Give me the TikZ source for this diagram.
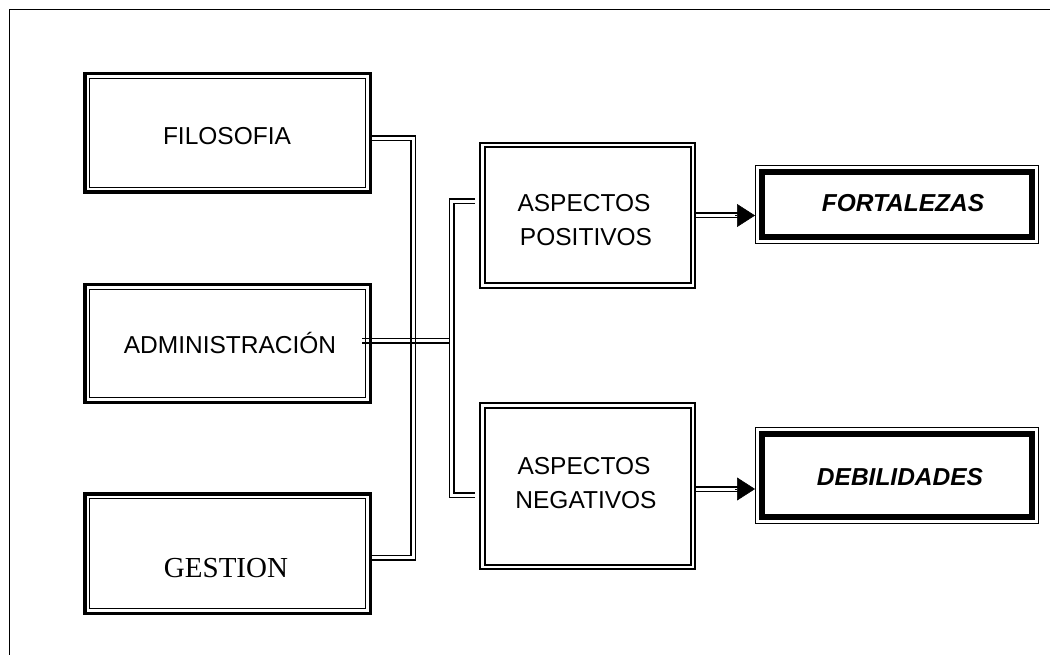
\documentclass[tikz,border=0pt]{standalone}
\usepackage{fontspec}
\setmainfont{Liberation Sans}
\newfontfamily\timesf{Liberation Serif}
\usetikzlibrary{arrows.meta}
\tikzset{
  dblbox/.style n args={3}{draw, line width=#1, inner sep=0pt,
    path picture={\draw[line width=#2]
      ([shift={(#3,-#3)}]path picture bounding box.north west) rectangle
      ([shift={(-#3,#3)}]path picture bounding box.south east);}},
  leftbox/.style={dblbox={3.5pt}{1.2pt}{4.4pt}, minimum width=285.5pt},
  aspbox/.style={dblbox={2pt}{2pt}{4.5pt}, minimum width=215pt},
  resbox/.style={dblbox={1.2pt}{5.5pt}{6.5pt}, minimum width=282.8pt},
  txt/.style={inner sep=0pt, anchor=base, font=\fontsize{24.5}{30}\selectfont},
  restxt/.style={txt, font=\fontsize{24.5}{30}\selectfont\bfseries\itshape},
  dbl/.style={double, double distance=3pt, line width=1.5pt},
  one/.style={line width=1.5pt},
  tip/.style={-{Triangle[length=18pt,width=23pt]}, line width=0.5pt}
}
\begin{document}
\begin{tikzpicture}[x=1pt,y=-1pt]
\useasboundingbox (0,0) rectangle (1050,655);
\fill[white] (0,0) rectangle (1050,655);
% outer frame (only left and top visible)
\draw[line width=1.3pt] (9.5,660) -- (9.5,9.5) -- (1055,9.5);

% boxes
\node[leftbox, minimum height=118.5pt] (filo)  at (227.5,133) {};
\node[leftbox, minimum height=117.5pt] (admin) at (227.5,343.5) {};
\node[leftbox, minimum height=119.5pt] (gest)  at (227.5,553.5) {};
\node[aspbox, minimum height=145pt] (pos) at (587.5,215.5) {};
\node[aspbox, minimum height=166pt] (neg) at (587.5,486) {};
\node[resbox, minimum height=77.8pt] (fort) at (897,204.5) {};
\node[resbox, minimum height=95.8pt] (deb) at (897,475.5) {};

% texts
\node[txt] (tfilo) at (227,145) {FILOSOFIA};
\node[txt] (tadmin) at (230,353) {ADMINISTRACIÓN};
\node[txt, font=\timesf\fontsize{29}{34}\selectfont] (tgest) at (226,577) {GESTION};
\node[txt] (tpos1) at (584,212) {ASPECTOS};
\node[txt] (tpos2) at (586,246) {POSITIVOS};
\node[txt] (tneg1) at (584,474) {ASPECTOS};
\node[txt] (tneg2) at (586,508) {NEGATIVOS};
\node[restxt] (tfort) at (903,212) {FORTALEZAS};
\node[restxt] (tdeb) at (900,485) {DEBILIDADES};

% bus coordinates
\coordinate (busL) at (413,350);
\coordinate (busR) at (451.5,350);
\coordinate (adminC) at ([xshift=-10pt,yshift=3pt]admin.east);

% left bus
\draw[dbl] ([yshift=-5.5pt]filo.east) -| (busL) |- ([yshift=-4pt]gest.east);
% administration line (crossing the left bus)
\draw[one, transform canvas={yshift=2.25pt}] (adminC) -- (adminC -| busR);
\draw[one, transform canvas={yshift=-2.25pt}] (adminC) -- (adminC -| busR);
% right bus
\draw[dbl] ([xshift=-4pt,yshift=14pt]pos.west) -| (busR) |- ([xshift=-4pt,yshift=-9pt]neg.west);

% arrows to results
\coordinate (posA) at (pos.east);
\coordinate (negA) at ([yshift=-3pt]neg.east);
\draw[dbl, shorten >=15pt] (posA) -- (posA -| fort.west);
\draw[tip] ([xshift=-20pt]posA -| fort.west) -- (posA -| fort.west);
\draw[dbl, shorten >=15pt] (negA) -- (negA -| deb.west);
\draw[tip] ([xshift=-20pt]negA -| deb.west) -- (negA -| deb.west);
\end{tikzpicture}
\end{document}
